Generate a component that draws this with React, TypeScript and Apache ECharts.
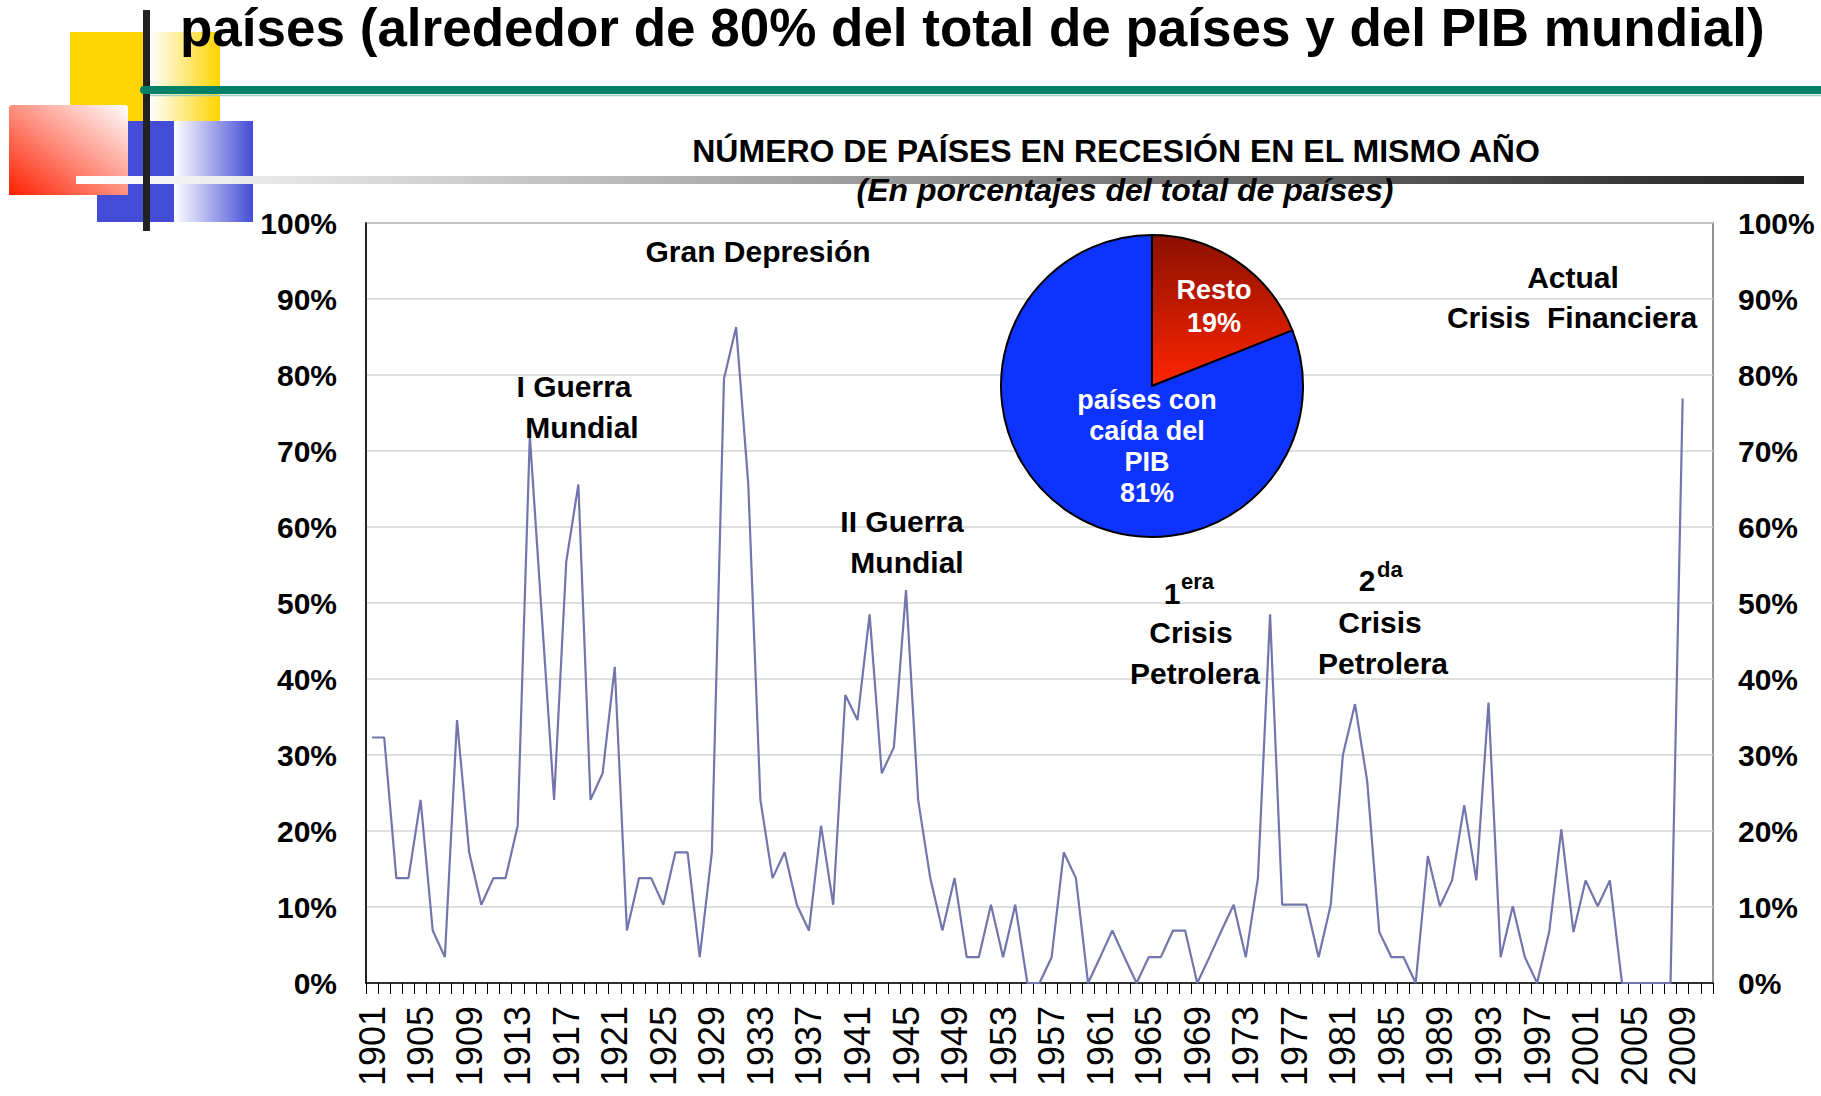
import React, { useEffect, useRef } from "react";
import * as echarts from "echarts";

const FONT = '"Liberation Sans", Arial, Helvetica, sans-serif';

// ---- data ----
const firstYear = 1901;
const lastYear = 2011;
const years: string[] = [];
for (let y = firstYear; y <= lastYear; y++) years.push(String(y));

// % of countries in recession in the same year (1901 .. 2011)
const recessionShare: (number | null)[] = [
  32.3, 32.3, 13.8, 13.8, 24.1, 6.9, 3.4, 34.6, 17.2, 10.3, // 1901-1910
  13.8, 13.8, 20.7, 72.0, 48.0, 24.1, 55.4, 65.6, 24.1, 27.6, // 1911-1920
  41.6, 6.9, 13.8, 13.8, 10.3, 17.2, 17.2, 3.4, 17.2, 79.5, // 1921-1930
  86.3, 65.7, 24.1, 13.8, 17.2, 10.3, 6.9, 20.7, 10.3, 37.9, // 1931-1940
  34.6, 48.5, 27.6, 31.0, 51.7, 24.1, 13.8, 6.9, 13.8, 3.4, // 1941-1950
  3.4, 10.3, 3.4, 10.3, 0, 0, 3.4, 17.2, 13.8, 0, // 1951-1960
  3.4, 6.9, 3.4, 0, 3.4, 3.4, 6.9, 6.9, 0, 3.4, // 1961-1970
  6.9, 10.3, 3.4, 13.8, 48.5, 10.3, 10.3, 10.3, 3.4, 10.3, // 1971-1980
  30.0, 36.7, 26.6, 6.7, 3.4, 3.4, 0, 16.7, 10.1, 13.5, // 1981-1990
  23.4, 13.5, 36.9, 3.4, 10.1, 3.4, 0, 6.7, 20.2, 6.7, // 1991-2000
  13.5, 10.1, 13.5, 0, 0, 0, 0, 0, 76.9, null, null, // 2001-2011
];

const pieNames = ["Resto", "países con\ncaída del\nPIB"];
const pieValues = [19, 81];

const yMin = 0;
const yMax = 100;
const yStep = 10;

// ---- texts ----
const slideTitle = "países (alrededor de 80% del total de países y del PIB mundial)";
const chartTitle = "NÚMERO DE PAÍSES EN RECESIÓN EN EL MISMO AÑO";
const chartSubtitle = "(En porcentajes del total de países)";

export default function App() {
  const ref = useRef<HTMLDivElement>(null);

  useEffect(() => {
    if (!ref.current) return;
    const chart = echarts.init(ref.current, undefined, { renderer: "svg" });

    const txt = (
      text: string,
      x: number,
      y: number,
      font: string,
      align: string = "center",
      fill: string = "#000"
    ) => ({
      type: "text",
      x,
      y,
      z: 100,
      silent: true,
      style: {
        text,
        font,
        fill,
        textAlign: align,
        textVerticalAlign: "middle",
      },
    });

    const B30 = `bold 30px ${FONT}`;
    const B22 = `bold 22px ${FONT}`;

    const hGrad = (c0: string, c1: string) =>
      new echarts.graphic.LinearGradient(0, 0, 1, 0, [
        { offset: 0, color: c0 },
        { offset: 1, color: c1 },
      ]);

    const graphic: any[] = [
      // decorations
      { type: "rect", silent: true, z: 1, shape: { x: 70, y: 32, width: 78, height: 89 }, style: { fill: "#FFD400" } },
      { type: "rect", silent: true, z: 1, shape: { x: 150, y: 32, width: 70, height: 89 }, style: { fill: hGrad("#FFFFFF", "#FFD400") } },
      { type: "rect", silent: true, z: 2, shape: { x: 97, y: 121, width: 78, height: 101 }, style: { fill: "#434CD6" } },
      { type: "rect", silent: true, z: 2, shape: { x: 174, y: 121, width: 79, height: 101 }, style: { fill: hGrad("#FFFFFF", "#434CD6") } },
      {
        type: "rect", silent: true, z: 3,
        shape: { x: 9, y: 105, width: 119, height: 90, r: [3, 3, 0, 0] },
        style: {
          fill: new echarts.graphic.LinearGradient(0, 1, 1, 0, [
            { offset: 0, color: "#FF2000" },
            { offset: 1, color: "#FFFFFF" },
          ]),
        },
      },
      { type: "rect", silent: true, z: 4, shape: { x: 76, y: 176, width: 1728, height: 8 }, style: { fill: hGrad("#FFFFFF", "#222222") } },
      { type: "line", silent: true, z: 5, shape: { x1: 146.5, y1: 10, x2: 146.5, y2: 231 }, style: { stroke: "#222222", lineWidth: 7 } },
      { type: "line", silent: true, z: 6, shape: { x1: 150, y1: 95.5, x2: 1830, y2: 95.5 }, style: { stroke: "#9CCFC3", lineWidth: 1.5 } },
      { type: "line", silent: true, z: 6, shape: { x1: 144, y1: 90, x2: 1830, y2: 90 }, style: { stroke: "#008066", lineWidth: 8, lineCap: "round" } },

      // titles
      txt(slideTitle, 180, 27, `bold 53px ${FONT}`, "left"),
      txt(chartTitle, 1116, 151, `bold 32px ${FONT}`),
      txt(chartSubtitle, 1125, 190, `italic bold 32px ${FONT}`),

      // annotations
      txt("Gran Depresión", 758, 251, B30),
      txt("I Guerra", 574, 386, B30),
      txt("Mundial", 582, 427, B30),
      txt("II Guerra", 902, 521, B30),
      txt("Mundial", 907, 562, B30),
      txt("1", 1172, 593, B30),
      txt("era", 1181, 581, B22, "left"),
      txt("Crisis", 1191, 632, B30),
      txt("Petrolera", 1195, 673, B30),
      txt("2", 1367, 580, B30),
      txt("da", 1377, 569, B22, "left"),
      txt("Crisis", 1380, 622, B30),
      txt("Petrolera", 1383, 663, B30),
      txt("Actual", 1573, 277, B30),
      txt("Crisis  Financiera", 1572, 317, B30),
    ];

    const yLabel = {
      formatter: "{value}%",
      fontSize: 30,
      fontWeight: "bold",
      fontFamily: FONT,
      color: "#000",
    };

    const option: any = {
      animation: false,
      backgroundColor: "#FFFFFF",
      grid: {
        left: 366,
        right: 108,
        top: 223,
        bottom: 113,
        show: true,
        borderColor: "#707070",
        borderWidth: 1.5,
      },
      xAxis: {
        type: "category",
        data: years,
        boundaryGap: true,
        axisLine: { show: true, lineStyle: { color: "#000", width: 1.5 } },
        axisTick: { show: true, interval: 0, length: 11, lineStyle: { color: "#000", width: 1 } },
        axisLabel: {
          interval: 3,
          rotate: 90,
          margin: 23,
          fontSize: 36,
          fontFamily: FONT,
          color: "#000",
        },
        splitLine: { show: false },
      },
      yAxis: [
        {
          type: "value",
          min: yMin,
          max: yMax,
          interval: yStep,
          position: "left",
          axisLine: { show: true, lineStyle: { color: "#000", width: 1.5 } },
          axisTick: { show: false },
          axisLabel: { ...yLabel, margin: 29 },
          splitLine: { show: true, lineStyle: { color: "#D4D4D4", width: 1.5 } },
        },
        {
          type: "value",
          min: yMin,
          max: yMax,
          interval: yStep,
          position: "right",
          axisLine: { show: false },
          axisTick: { show: false },
          axisLabel: { ...yLabel, margin: 25 },
          splitLine: { show: false },
        },
      ],
      series: [
        {
          type: "line",
          data: recessionShare,
          yAxisIndex: 0,
          symbol: "none",
          connectNulls: false,
          lineStyle: { color: "#7276AC", width: 2.2 },
          z: 3,
          silent: true,
        },
        {
          type: "pie",
          center: [1152, 386],
          radius: 151,
          startAngle: 90,
          clockwise: true,
          silent: true,
          z: 5,
          labelLine: { show: false },
          itemStyle: { borderColor: "#000", borderWidth: 2 },
          label: {
            show: true,
            position: "inside",
            color: "#FFFFFF",
            fontSize: 27,
            fontWeight: "bold",
            fontFamily: FONT,
            align: "center",
            formatter: (p: any) => `${p.name}\n${p.value}%`,
          },
          labelLayout: (params: any) =>
            params.dataIndex === 0 ? { x: 1214, y: 306 } : { x: 1147, y: 446 },
          data: [
            {
              name: pieNames[0],
              value: pieValues[0],
              itemStyle: {
                color: new echarts.graphic.LinearGradient(0, 0, 0, 1, [
                  { offset: 0, color: "#8A1000" },
                  { offset: 1, color: "#FF2400" },
                ]),
              },
              label: { lineHeight: 33 },
            },
            {
              name: pieNames[1],
              value: pieValues[1],
              itemStyle: { color: "#0F33FF" },
              label: { lineHeight: 31 },
            },
          ],
        },
      ],
      graphic,
    };

    chart.setOption(option);
    return () => chart.dispose();
  }, []);

  return (
    <div
      ref={ref}
      style={{
        position: "fixed",
        left: 0,
        top: 0,
        width: 1821,
        height: 1096,
        background: "#fff",
      }}
    />
  );
}
